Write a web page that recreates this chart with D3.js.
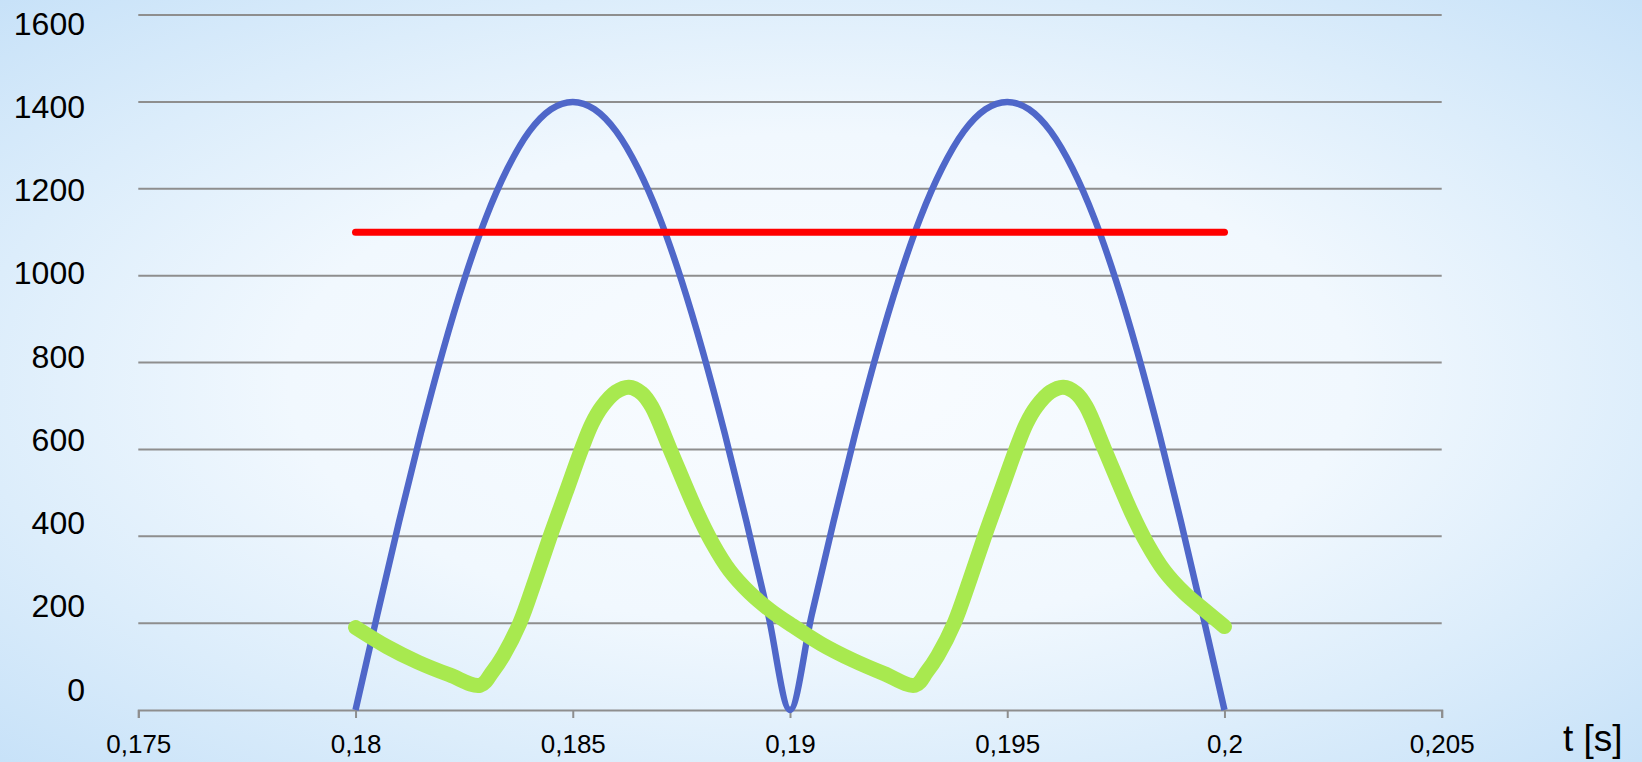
<!DOCTYPE html>
<html>
<head>
<meta charset="utf-8">
<script src="https://cdn.jsdelivr.net/npm/d3@7"></script>
<style>
html,body{margin:0;padding:0;overflow:hidden;}
svg{display:block;}
</style>
</head>
<body>
<svg id="chart" width="1642" height="762"></svg>
<script>
// ---------- data ----------
const yTicks = [0, 200, 400, 600, 800, 1000, 1200, 1400, 1600];
const xTicks = [0.175, 0.18, 0.185, 0.19, 0.195, 0.2, 0.205];
const xTickLabels = ["0,175", "0,18", "0,185", "0,19", "0,195", "0,2", "0,205"];
const axisTitle = "t [s]";

// blue: rectified voltage
const blueT = [0.1800,0.1805,0.1810,0.1815,0.1820,0.1825,0.1830,0.1835,0.1840,0.1845,0.1850,
               0.1855,0.1860,0.1865,0.1870,0.1875,0.1880,0.1885,0.1890,0.1895,0.1900,
               0.1905,0.1910,0.1915,0.1920,0.1925,0.1930,0.1935,0.1940,0.1945,0.1950,
               0.1955,0.1960,0.1965,0.1970,0.1975,0.1980,0.1985,0.1990,0.1995,0.2000];
const blueV = [0,219,433,636,823,990,1133,1247,1332,1383,1400,
               1383,1332,1247,1133,990,823,636,433,219,0,
               219,433,636,823,990,1133,1247,1332,1383,1400,
               1383,1332,1247,1133,990,823,636,433,219,0];

// red: constant level
const redT = [0.18, 0.20];
const redV = [1100, 1100];

// green: current
const greenT = [0.18000,0.18072,0.18144,0.18216,0.18287,0.18315,0.18340,0.18378,0.18414,0.18448,
                0.18484,0.18520,0.18544,0.18567,0.18599,0.18629,0.18659,0.18682,0.18724,0.18785,
                0.18822,0.18861,0.18907,0.18954,0.19000,0.19072,0.19144,0.19216,0.19288,
                0.19315,0.19340,0.19378,0.19414,0.19448,0.19484,0.19520,0.19544,0.19567,0.19599,
                0.19629,0.19659,0.19682,0.19724,0.19785,0.19822,0.19861,0.19907,0.19954,0.20000];
const greenV = [190,146,110,81,57,88,125,200,300,400,
                500,600,659,698,732,743,729,698,600,457,
                383,321,270,230,198,152,115,84,57,
                88,125,200,300,400,500,600,659,698,732,
                743,729,698,600,457,383,321,270,230,192];

// ---------- drawing ----------
const svg = d3.select("#chart");
const W = 1642, H = 762;

const defs = svg.append("defs");
const grad = defs.append("radialGradient").attr("id","bg")
  .attr("cx","50%").attr("cy","50%").attr("r","72%");
grad.append("stop").attr("offset","0%").attr("stop-color","#f9fcff");
grad.append("stop").attr("offset","45%").attr("stop-color","#f1f8fe");
grad.append("stop").attr("offset","72%").attr("stop-color","#dcedfb");
grad.append("stop").attr("offset","100%").attr("stop-color","#c6e1f8");
svg.append("rect").attr("width",W).attr("height",H).attr("fill","url(#bg)");

const x = d3.scaleLinear().domain([0.175, 0.205]).range([138.3, 1441.7]);
const y = d3.scaleLinear().domain([0, 1600]).range([710, 15]);
// value labels sit on their own (slightly compressed) scale, as in the original
const yLab = d3.scaleLinear().domain([0, 1600]).range([700.5, 34.5]);

// gridlines
svg.append("g").selectAll("line").data(yTicks.filter(d => d > 0)).join("line")
  .attr("x1", x(0.175)).attr("x2", x(0.205))
  .attr("y1", d => y(d)).attr("y2", d => y(d))
  .attr("stroke", "#8e8e8e").attr("stroke-width", 2);

// x axis
const xAxis = d3.axisBottom(x)
  .tickValues(xTicks)
  .tickSizeInner(8).tickSizeOuter(8)
  .tickFormat((d, i) => xTickLabels[i]);
const gx = svg.append("g").attr("transform", `translate(0,${y(0)})`).call(xAxis);
gx.select(".domain").attr("stroke", "#8e8e8e").attr("stroke-width", 2);
gx.selectAll(".tick line").attr("stroke", "#8e8e8e").attr("stroke-width", 2);
gx.selectAll(".tick text")
  .attr("y", 24.5).attr("dy", "0.71em")
  .attr("fill", "#000")
  .style("font-family", "'Liberation Sans', Arial, sans-serif")
  .style("font-size", "26px");

// y labels
svg.append("g").selectAll("text").data(yTicks).join("text")
  .attr("x", 85).attr("y", d => yLab(d))
  .attr("text-anchor", "end")
  .style("font-family", "'Liberation Sans', Arial, sans-serif")
  .style("font-size", "32px")
  .attr("fill", "#000")
  .text(d => d);

// axis title
svg.append("text").attr("x", 1563).attr("y", 751)
  .style("font-family", "'Liberation Sans', Arial, sans-serif")
  .style("font-size", "37px").attr("fill", "#000")
  .text(axisTitle);

const line = d3.line().x(d => x(d[0])).y(d => y(d[1])).curve(d3.curveMonotoneX);
const smooth = d3.line().x(d => x(d[0])).y(d => y(d[1])).curve(d3.curveCatmullRom.alpha(0.5));

// blue
svg.append("path").datum(d3.zip(blueT, blueV))
  .attr("d", line).attr("fill", "none")
  .attr("stroke", "#4f67c9").attr("stroke-width", 6.5)
  .attr("stroke-linejoin", "round");

// red
svg.append("path").datum(d3.zip(redT, redV))
  .attr("d", d3.line().x(d => x(d[0])).y(d => y(d[1])))
  .attr("fill", "none")
  .attr("stroke", "#ff0000").attr("stroke-width", 7)
  .attr("stroke-linecap", "round");

// green
svg.append("path").datum(d3.zip(greenT, greenV))
  .attr("d", smooth).attr("fill", "none")
  .attr("stroke", "#a8e94f").attr("stroke-width", 15)
  .attr("stroke-linecap", "round").attr("stroke-linejoin", "round");
</script>
</body>
</html>
